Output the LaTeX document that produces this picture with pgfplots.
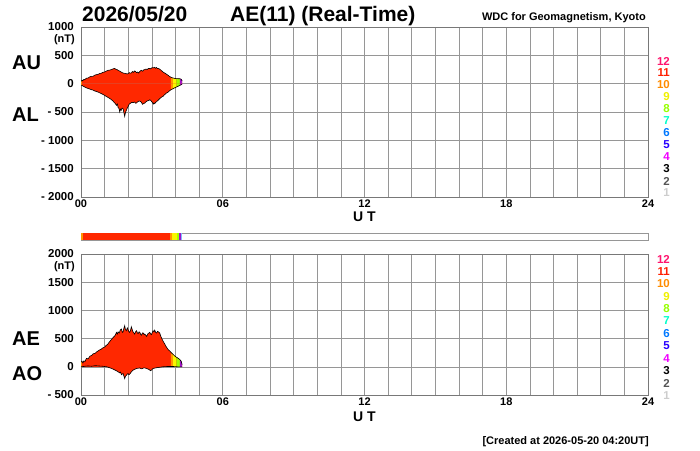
\documentclass[border=0pt]{standalone}
\usepackage{pgfplots}
\pgfplotsset{compat=1.18}
\usepackage{pgfplotstable}
\usepackage{fontspec}
\setmainfont{Liberation Sans}

\definecolor{aered}{RGB}{255,40,0}
\definecolor{aeorange}{RGB}{255,150,0}
\definecolor{aeyellow}{RGB}{250,245,0}
\definecolor{aegreen}{RGB}{160,255,0}
\definecolor{aepurple}{RGB}{160,20,200}
\definecolor{gridgray}{RGB}{150,150,150}
\definecolor{framegray}{RGB}{120,120,120}
\definecolor{c12}{RGB}{255,20,110}
\definecolor{c11}{RGB}{255,30,0}
\definecolor{c10}{RGB}{255,140,0}
\definecolor{c9}{RGB}{240,240,0}
\definecolor{c8}{RGB}{150,255,0}
\definecolor{c7}{RGB}{0,255,200}
\definecolor{c6}{RGB}{0,120,255}
\definecolor{c5}{RGB}{40,0,255}
\definecolor{c4}{RGB}{240,0,255}
\definecolor{c3}{RGB}{0,0,0}
\definecolor{c2}{RGB}{85,85,85}
\definecolor{c1}{RGB}{205,205,205}

\pgfplotstableread{
h v
0.00 40
0.04 60
0.07 50
0.12 75
0.16 70
0.22 95
0.30 100
0.37 120
0.44 130
0.50 128
0.58 150
0.65 158
0.72 165
0.79 178
0.86 185
0.93 200
1.00 206
1.07 222
1.15 235
1.22 240
1.29 250
1.36 262
1.43 268
1.47 255
1.52 250
1.57 236
1.62 225
1.68 210
1.74 196
1.78 189
1.84 182
1.90 180
1.95 170
1.99 177
2.04 195
2.08 185
2.13 189
2.18 215
2.22 200
2.27 224
2.31 215
2.35 195
2.40 205
2.44 188
2.49 215
2.53 230
2.56 236
2.61 220
2.66 245
2.70 248
2.75 258
2.80 250
2.84 265
2.89 270
2.94 262
3.01 283
3.06 278
3.11 290
3.15 272
3.19 285
3.24 268
3.28 270
3.33 255
3.38 240
3.43 220
3.47 206
3.53 190
3.58 180
3.62 165
3.68 150
3.74 130
3.80 115
3.86 104
3.90 100
3.97 92
4.04 88
4.10 88
4.18 86
4.24 80
4.28 50
}\AUdata

\pgfplotstableread{
h v
0.00 -25
0.04 -30
0.07 -40
0.12 -50
0.16 -60
0.22 -72
0.30 -85
0.37 -95
0.44 -106
0.50 -112
0.58 -128
0.65 -138
0.72 -148
0.79 -162
0.86 -175
0.93 -190
1.00 -206
1.07 -225
1.15 -245
1.22 -262
1.29 -283
1.35 -305
1.40 -330
1.45 -350
1.50 -383
1.54 -360
1.57 -420
1.61 -440
1.64 -500
1.67 -450
1.70 -470
1.74 -430
1.78 -443
1.82 -520
1.85 -578
1.88 -510
1.92 -472
1.96 -430
2.00 -400
2.03 -370
2.06 -354
2.10 -345
2.15 -330
2.20 -335
2.27 -324
2.31 -345
2.35 -340
2.40 -320
2.44 -310
2.49 -307
2.53 -320
2.56 -330
2.60 -365
2.63 -355
2.67 -348
2.70 -342
2.74 -325
2.78 -310
2.84 -300
2.88 -295
2.91 -283
2.96 -300
3.00 -320
3.04 -345
3.06 -360
3.09 -340
3.12 -354
3.16 -330
3.19 -320
3.26 -295
3.33 -265
3.40 -240
3.47 -224
3.55 -190
3.62 -165
3.69 -148
3.75 -125
3.80 -110
3.86 -96
3.90 -88
3.97 -72
4.04 -59
4.10 -48
4.18 -30
4.24 -20
4.28 -12
}\ALdata

\pgfplotstableread{
h v
0.00 80
0.04 100
0.08 70
0.12 105
0.17 95
0.23 150
0.30 140
0.38 190
0.45 200
0.51 230
0.60 240
0.66 265
0.72 280
0.79 300
0.85 310
0.90 330
1.00 350
1.07 380
1.13 400
1.20 440
1.28 480
1.36 520
1.41 540
1.45 560
1.50 610
1.54 580
1.57 620
1.62 600
1.66 650
1.71 670
1.75 610
1.78 620
1.82 690
1.85 730
1.88 660
1.92 640
1.96 690
1.99 660
2.03 620
2.06 610
2.10 650
2.13 710
2.17 660
2.20 620
2.24 600
2.27 580
2.31 620
2.35 640
2.39 600
2.42 590
2.46 620
2.49 610
2.53 570
2.56 560
2.60 600
2.63 600
2.67 570
2.70 580
2.74 560
2.78 540
2.81 570
2.84 590
2.88 600
2.91 610
2.95 580
2.98 570
3.02 610
3.05 640
3.09 620
3.12 650
3.16 610
3.20 600
3.24 630
3.27 620
3.33 600
3.38 540
3.42 500
3.48 450
3.55 400
3.60 360
3.65 330
3.70 300
3.76 280
3.80 260
3.86 235
3.90 220
3.97 190
4.04 170
4.08 160
4.13 145
4.18 130
4.24 100
4.28 40
}\AEdata

\pgfplotstableread{
h v
0.00 10
0.10 5
0.20 12
0.30 15
0.45 10
0.60 20
0.75 15
0.90 10
1.00 5
1.10 0
1.20 -15
1.30 -30
1.38 -45
1.45 -60
1.52 -75
1.57 -90
1.62 -100
1.65 -110
1.68 -95
1.71 -140
1.75 -125
1.78 -120
1.82 -170
1.85 -210
1.88 -170
1.92 -150
1.96 -130
1.99 -120
2.03 -140
2.06 -130
2.10 -110
2.13 -90
2.20 -60
2.27 -45
2.35 -30
2.42 -25
2.49 -20
2.55 -35
2.60 -30
2.65 -20
2.70 -20
2.77 -30
2.84 -40
2.90 -55
2.95 -70
3.00 -50
3.05 -30
3.10 -25
3.15 -20
3.22 -15
3.30 -10
3.38 -5
3.45 0
3.55 3
3.65 5
3.80 5
3.90 5
4.00 3
4.08 0
4.18 0
4.28 0
}\AOdata

\pgfplotsset{
  aestyle/.style={
    scale only axis, width=567pt,
    xmin=0, xmax=24,
    xtick={0,6,12,18,24}, xticklabels={00,06,12,18,24},
    minor xtick={1,2,...,23},
    grid=both,
    major grid style={draw=gridgray, line width=0.6pt},
    minor grid style={draw=gridgray, line width=0.6pt},
    axis line style={draw=framegray, line width=0.7pt},
    major tick length=0pt, minor tick length=0pt,
    tick style={draw=none},
    xticklabel style={font=\fontsize{11}{12}\selectfont\bfseries, inner sep=0pt, anchor=north, yshift=-3pt},
    yticklabel style={font=\fontsize{11.5}{12}\selectfont\bfseries, inner sep=0pt, anchor=east, xshift=-7pt},
  },
  segfill/.style={draw=none, fill=#1},
}

\begin{document}
\begin{tikzpicture}[x=1pt,y=1pt]
\path[use as bounding box] (0,0) rectangle (700,450);

% ---------- top panel: AU / AL ----------
\begin{axis}[aestyle, at={(81pt,253pt)}, anchor=south west, height=170pt,
  ymin=-2000, ymax=1000,
  ytick={-2000,-1500,-1000,-500,0,500,1000},
  yticklabels={- 2000,- 1500,- 1000,- 500,0,500,1000}]
  \addplot[segfill=aered] table[x=h,y=v] {\AUdata} \closedcycle;
  \addplot[segfill=aered] table[x=h,y=v] {\ALdata} \closedcycle;
  \addplot[segfill=aeorange, restrict x to domain=0:0.04] table[x=h,y=v] {\AUdata} \closedcycle;
  \addplot[segfill=aeorange, restrict x to domain=0:0.04] table[x=h,y=v] {\ALdata} \closedcycle;
  \addplot[segfill=aeorange, restrict x to domain=3.80:3.90] table[x=h,y=v] {\AUdata} \closedcycle;
  \addplot[segfill=aeorange, restrict x to domain=3.80:3.90] table[x=h,y=v] {\ALdata} \closedcycle;
  \addplot[segfill=aeyellow, restrict x to domain=3.90:4.04] table[x=h,y=v] {\AUdata} \closedcycle;
  \addplot[segfill=aeyellow, restrict x to domain=3.90:4.04] table[x=h,y=v] {\ALdata} \closedcycle;
  \addplot[segfill=aegreen, restrict x to domain=4.04:4.18] table[x=h,y=v] {\AUdata} \closedcycle;
  \addplot[segfill=aegreen, restrict x to domain=4.04:4.18] table[x=h,y=v] {\ALdata} \closedcycle;
  \addplot[segfill=aepurple, restrict x to domain=4.18:4.28] table[x=h,y=v] {\AUdata} \closedcycle;
  \addplot[segfill=aepurple, restrict x to domain=4.18:4.28] table[x=h,y=v] {\ALdata} \closedcycle;
  \addplot[black, line width=0.6pt] table[x=h,y=v] {\AUdata};
  \addplot[black, line width=0.6pt] table[x=h,y=v] {\ALdata};
\end{axis}

% ---------- station strip ----------
\begin{axis}[scale only axis, at={(81pt,210pt)}, anchor=south west, width=567pt, height=7pt,
  xmin=0, xmax=24, ymin=0, ymax=1, xtick=\empty, ytick=\empty,
  axis line style={draw=gridgray, line width=0.6pt}]
  \addplot[segfill=aeorange] coordinates {(0,0) (0.08,0) (0.08,1) (0,1)} --cycle;
  \addplot[segfill=aered] coordinates {(0.08,0) (3.77,0) (3.77,1) (0.08,1)} --cycle;
  \addplot[segfill=aeorange] coordinates {(3.77,0) (3.86,0) (3.86,1) (3.77,1)} --cycle;
  \addplot[segfill=aeyellow] coordinates {(3.86,0) (4.05,0) (4.05,1) (3.86,1)} --cycle;
  \addplot[segfill=aegreen] coordinates {(4.05,0) (4.16,0) (4.16,1) (4.05,1)} --cycle;
  \addplot[segfill=aepurple] coordinates {(4.16,0) (4.22,0) (4.22,1) (4.16,1)} --cycle;
  \addplot[segfill=c6!50] coordinates {(4.22,0) (4.27,0) (4.27,1) (4.22,1)} --cycle;
\end{axis}

% ---------- bottom panel: AE / AO ----------
\begin{axis}[aestyle, at={(81pt,55pt)}, anchor=south west, height=141pt,
  ymin=-500, ymax=2000,
  ytick={-500,0,500,1000,1500,2000},
  yticklabels={- 500,0,500,1000,1500,2000}]
  \addplot[segfill=aered] table[x=h,y=v] {\AEdata} \closedcycle;
  \addplot[segfill=aered] table[x=h,y=v] {\AOdata} \closedcycle;
  \addplot[segfill=aeorange, restrict x to domain=0:0.04] table[x=h,y=v] {\AEdata} \closedcycle;
  \addplot[segfill=aeorange, restrict x to domain=3.80:3.90] table[x=h,y=v] {\AEdata} \closedcycle;
  \addplot[segfill=aeyellow, restrict x to domain=3.90:4.04] table[x=h,y=v] {\AEdata} \closedcycle;
  \addplot[segfill=aegreen, restrict x to domain=4.04:4.18] table[x=h,y=v] {\AEdata} \closedcycle;
  \addplot[segfill=aepurple, restrict x to domain=4.18:4.28] table[x=h,y=v] {\AEdata} \closedcycle;
  \addplot[black, line width=0.6pt] table[x=h,y=v] {\AEdata};
  \addplot[black, line width=0.6pt] table[x=h,y=v] {\AOdata};
\end{axis}

% ---------- texts ----------
\node[anchor=base west, inner sep=0pt, font=\fontsize{21}{24}\selectfont\bfseries] at (82,428) {2026/05/20};
\node[anchor=base west, inner sep=0pt, font=\fontsize{21}{24}\selectfont\bfseries] at (230,428) {AE(11) (Real-Time)};
\node[anchor=base east, inner sep=0pt, font=\fontsize{11}{12}\selectfont\bfseries] at (646,429) {WDC for Geomagnetism, Kyoto};

\node[anchor=base west, inner sep=0pt, font=\fontsize{20}{22}\selectfont\bfseries] at (12,380) {AU};
\node[anchor=base west, inner sep=0pt, font=\fontsize{20}{22}\selectfont\bfseries] at (12,328) {AL};
\node[anchor=base west, inner sep=0pt, font=\fontsize{20}{22}\selectfont\bfseries] at (12,105) {AE};
\node[anchor=base west, inner sep=0pt, font=\fontsize{20}{22}\selectfont\bfseries] at (12,70) {AO};

\node[anchor=east, inner sep=0pt, font=\fontsize{11}{12}\selectfont\bfseries] at (75,410.5) {(nT)};
\node[anchor=east, inner sep=0pt, font=\fontsize{11}{12}\selectfont\bfseries] at (75,183) {(nT)};

\node[anchor=center, inner sep=0pt, font=\fontsize{14}{16}\selectfont\bfseries] at (364.5,233) {U T};
\node[anchor=center, inner sep=0pt, font=\fontsize{14}{16}\selectfont\bfseries] at (364.5,33) {U T};

\node[anchor=base east, inner sep=0pt, font=\fontsize{11}{12}\selectfont\bfseries] at (649,6) {[Created at 2026-05-20 04:20UT]};

% station-number colour keys
\foreach \n [count=\i from 0] in {12,11,10,9,8,7,6,5,4,3,2,1} {
  \node[anchor=east, inner sep=0pt, text=c\n, font=\fontsize{11.5}{12}\selectfont\bfseries] at (670,389-12*\i) {\n};
  \node[anchor=east, inner sep=0pt, text=c\n, font=\fontsize{11.5}{12}\selectfont\bfseries] at (670,191-12.4*\i) {\n};
}
\end{tikzpicture}
\end{document}
